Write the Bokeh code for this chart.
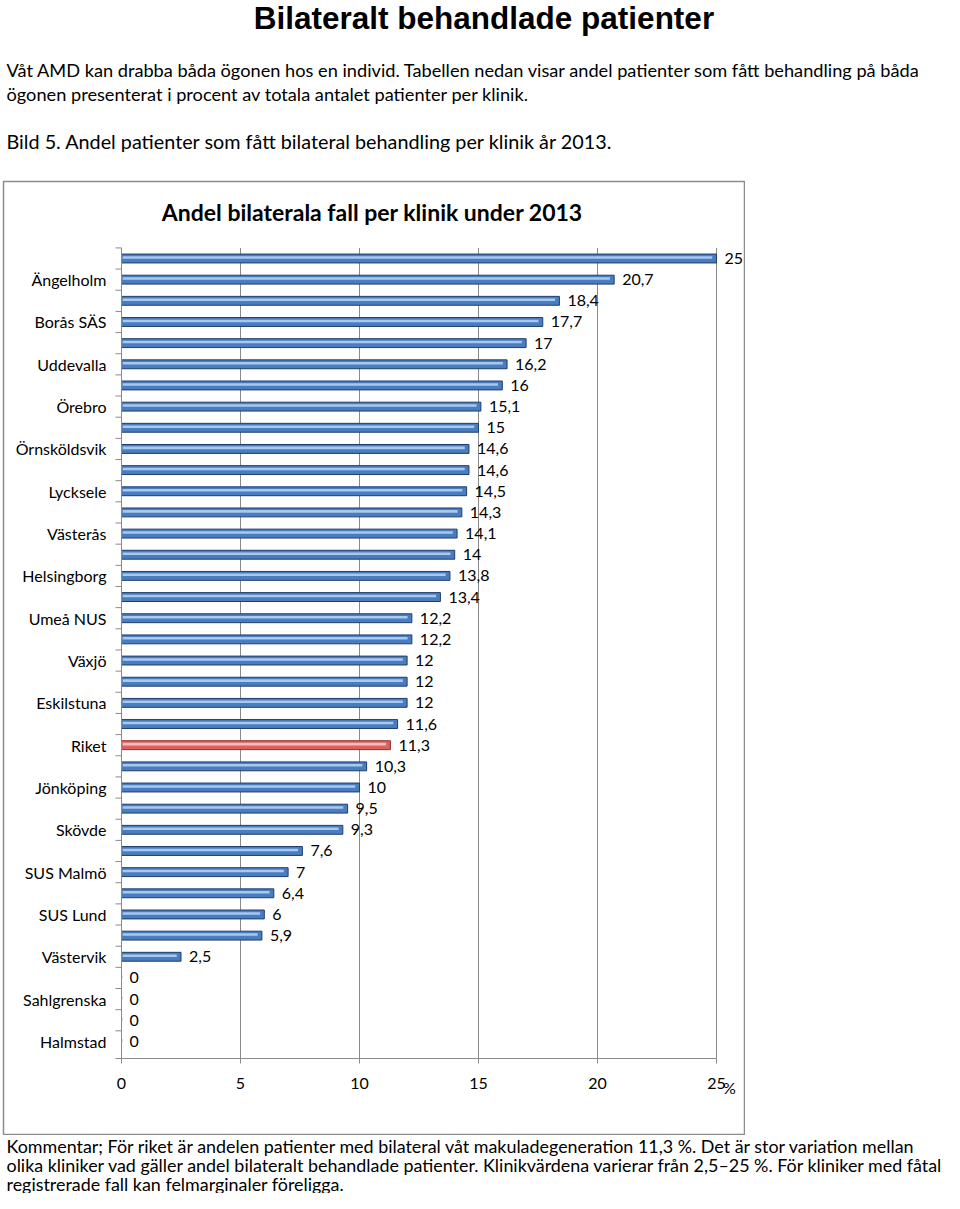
from bokeh.plotting import figure
from bokeh.layouts import column
from bokeh.models import Range1d, Label, LabelSet, ColumnDataSource
from bokeh.embed import file_html
from bokeh.resources import INLINE
from bokeh.core.properties import value

# ---------------- data ----------------
klinik = ["", "Ängelholm", "", "Borås SÄS", "", "Uddevalla", "", "Örebro", "", "Örnsköldsvik",
          "", "Lycksele", "", "Västerås", "", "Helsingborg", "", "Umeå NUS", "", "Växjö",
          "", "Eskilstuna", "", "Riket", "", "Jönköping", "", "Skövde", "", "SUS Malmö",
          "", "SUS Lund", "", "Västervik", "", "Sahlgrenska", "", "Halmstad"]
andel = [25, 20.7, 18.4, 17.7, 17, 16.2, 16, 15.1, 15, 14.6,
         14.6, 14.5, 14.3, 14.1, 14, 13.8, 13.4, 12.2, 12.2, 12,
         12, 12, 11.6, 11.3, 10.3, 10, 9.5, 9.3, 7.6, 7,
         6.4, 6, 5.9, 2.5, 0, 0, 0, 0]
x_ticks = [0, 5, 10, 15, 20, 25]
x_tick_labels = ["0", "5", "10", "15", "20", "25"]

title_text = "Bilateralt behandlade patienter"
intro_lines = ["Våt AMD kan drabba båda ögonen hos en individ. Tabellen nedan visar andel patienter som fått behandling på båda",
               "ögonen presenterat i procent av totala antalet patienter per klinik."]
caption_text = "Bild 5. Andel patienter som fått bilateral behandling per klinik år 2013."
chart_title = "Andel bilaterala fall per klinik under 2013"
unit_text = "%"
comment_lines = ["Kommentar; För riket är andelen patienter med bilateral våt makuladegeneration 11,3 %. Det är stor variation mellan",
                 "olika kliniker vad gäller andel bilateralt behandlade patienter. Klinikvärdena varierar från 2,5–25 %. För kliniker med fåtal",
                 "registrerade fall kan felmarginaler föreligga."]

# ---------------- layout constants (picture pixels) ----------------
PX0, PX_PER = 121, 23.8    # x of 0 %, pixels per %
PY1, PY_PER = 258, 21.16   # y of first bar, pixels per bar


def X(px):
    return (px - PX0) / PX_PER


def Y(py):
    return 1 + (py - PY1) / PY_PER


W = 944
GRAY = "#8A8A8A"
TXT = "black"
CHART_PX = "16px"

# ---------------- derived columns ----------------
pos = list(range(1, len(andel) + 1))
is_riket = [k == "Riket" for k in klinik]
src = ColumnDataSource(dict(
    y=pos, v=andel,
    fill=["#D9625F" if r else "#4A7DC0" for r in is_riket],
    edge=["#8E2F2C" if r else "#1F3D6B" for r in is_riket],
    hl=["#F6BDBB" if r else "#A8C9EE" for r in is_riket],
    txt=[("%g" % v).replace(".", ",") for v in andel],
    hl_y=[y - 0.05 for y in pos],
    hl_r=[max(v - 0.18, 0) for v in andel],
))
lab_src = ColumnDataSource(dict(y=[y for y, k in zip(pos, klinik) if k],
                                name=[k for k in klinik if k]))
xt_src = ColumnDataSource(dict(x=x_ticks, t=x_tick_labels))

# ---------------- top text block ----------------
TOP_H = 180
top = figure(width=W, height=TOP_H, x_range=Range1d(0, W), y_range=Range1d(TOP_H, 0),
             min_border=0, x_axis_type=None, y_axis_type=None,
             output_backend="svg", toolbar_location=None)
top.outline_line_color = None
top.grid.visible = False
top.add_layout(Label(x=482.5, y=17, text=title_text, text_font="Liberation Sans",
                     text_font_style="bold", text_font_size="31.5px", text_color=TXT,
                     text_align="center", text_baseline="alphabetic"))
for yy, t in zip([69, 93], intro_lines):
    top.add_layout(Label(x=3, y=yy, text=t, text_font="Lato", text_font_size="18.2px",
                         text_color=TXT, text_baseline="middle"))
top.add_layout(Label(x=3, y=140, text=caption_text, text_font="Lato", text_font_size="19.8px",
                     text_color=TXT, text_baseline="middle"))

# ---------------- chart ----------------
BOX_L, BOX_R, BOX_T, BOX_B = 3, 744, 181, 1134
CH_H = BOX_B + 1 - TOP_H
chart = figure(width=BOX_R + 1, height=CH_H,
               x_range=Range1d(X(BOX_L), X(BOX_R)),
               y_range=Range1d(Y(BOX_B), Y(BOX_T)),
               min_border_left=BOX_L, min_border_right=1, min_border_top=BOX_T - TOP_H,
               min_border_bottom=1, x_axis_type=None, y_axis_type=None,
               output_backend="svg", toolbar_location=None)
chart.grid.visible = False
chart.outline_line_color = "#8C8C8C"
chart.outline_line_width = 1.5

Y_TOP = 0.5
Y_BOT = Y(1058)

# vertical gridlines
chart.segment(x0=x_ticks[1:], x1=x_ticks[1:], y0=Y_TOP, y1=Y_BOT, line_color=GRAY, line_width=1)

# bars
chart.hbar(y="y", left=0, right="v", height=0.42, fill_color="fill", line_color="edge",
           line_width=1, source=src)
chart.hbar(y="hl_y", left=0.05, right="hl_r", height=0.12, fill_color="hl", line_color=None,
           source=src)

# category axis
chart.segment(x0=0, x1=0, y0=Y_TOP, y1=Y_BOT, line_color=GRAY, line_width=1)
y_tick_pos = [Y_TOP + i for i in range(len(pos))] + [Y_BOT]
chart.segment(x0=-6 / PX_PER, x1=0, y0=y_tick_pos, y1=y_tick_pos, line_color=GRAY, line_width=1)
chart.add_layout(LabelSet(x=0, y="y", text="name", source=lab_src, x_offset=-15,
                          text_font=value("Lato"), text_font_size=CHART_PX, text_color=TXT,
                          text_align="right", text_baseline="middle"))

# value axis
chart.segment(x0=0, x1=x_ticks[-1], y0=Y_BOT, y1=Y_BOT, line_color=GRAY, line_width=1)
chart.segment(x0=x_ticks, x1=x_ticks, y0=Y_BOT, y1=Y_BOT + 5 / PY_PER, line_color=GRAY,
              line_width=1)
chart.add_layout(LabelSet(x="x", y=Y(1083), text="t", source=xt_src,
                          text_font=value("Lato"), text_font_size=CHART_PX, text_color=TXT,
                          text_align="center", text_baseline="middle"))
chart.add_layout(Label(x=X(729), y=Y(1087), text=unit_text, text_font="Lato",
                       text_font_size=CHART_PX, text_color=TXT, text_align="center",
                       text_baseline="middle"))

# value labels
chart.add_layout(LabelSet(x="v", y="y", text="txt", x_offset=8, source=src,
                          text_font=value("Lato"), text_font_size=CHART_PX, text_color=TXT,
                          text_baseline="middle", text_align="left"))

# chart title
chart.add_layout(Label(x=X(372), y=Y(211), text=chart_title, text_font="Lato",
                       text_font_style="bold", text_font_size="23px", text_color=TXT,
                       text_align="center", text_baseline="middle"))

# ---------------- bottom text block ----------------
BOT_H = 1193 - TOP_H - CH_H
bottom = figure(width=W, height=BOT_H, x_range=Range1d(0, W), y_range=Range1d(BOT_H, 0),
                min_border=0, x_axis_type=None, y_axis_type=None,
                output_backend="svg", toolbar_location=None)
bottom.outline_line_color = None
bottom.grid.visible = False
for yy, t in zip([10, 29, 48], comment_lines):
    bottom.add_layout(Label(x=3, y=yy, text=t, text_font="Lato", text_font_size="17.9px",
                            text_color=TXT, text_baseline="middle"))

layout = column(top, chart, bottom)
open("out.html", "w").write(file_html(layout, INLINE))
